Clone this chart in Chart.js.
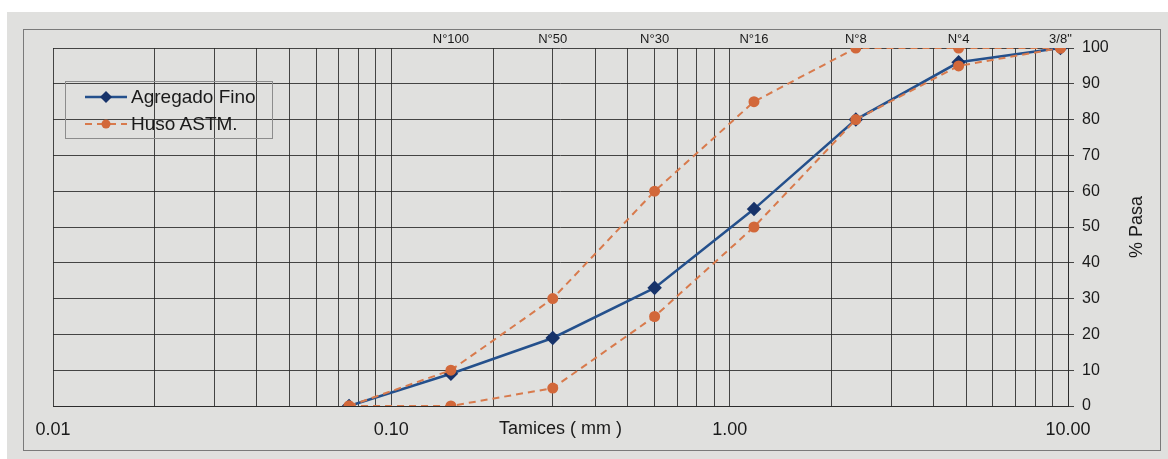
<!DOCTYPE html>
<html>
<head>
<meta charset="utf-8">
<script src="https://cdn.jsdelivr.net/npm/chart.js@4.4.1/dist/chart.umd.min.js"></script>
<style>
  body { margin: 0; background: #fff; }
  #wrap { position: relative; width: 1168px; height: 459px; }
  #legend {
    position: absolute; left: 65px; top: 81px; width: 206px; height: 56px;
    border: 1px solid #8c8c8c;
    font-family: "Liberation Sans", Arial, sans-serif; font-size: 19px; color: #1a1a1a;
  }
  #legend .row { position: absolute; left: 19px; height: 22px; display: flex; align-items: center; white-space: nowrap; }
  #legend svg { margin-right: 2px; }
</style>
</head>
<body>
<div id="wrap">
  <canvas id="myChart" width="1168" height="459"></canvas>
  <div id="legend"></div>
</div>
<script>
// tamices (mm) y su designacion
const sieveMm = [0.075, 0.15, 0.3, 0.6, 1.18, 2.36, 4.75, 9.5];
const sieveNames = ['N°200', 'N°100', 'N°50', 'N°30', 'N°16', 'N°8', 'N°4', '3/8"'];

// % que pasa
const agregadoFino = [0, 9, 19, 33, 55, 80, 96, 100];
const husoSuperior = [0, 10, 30, 60, 85, 100, 100, 100];
const husoInferior = [0, 0, 5, 25, 50, 80, 95, 100];

const xDecades = [0.01, 0.1, 1, 10];
const yTicks = [0, 10, 20, 30, 40, 50, 60, 70, 80, 90, 100];

const blue = '#24508c';
const blueMark = '#17336a';
const orange = '#d87a4c';
const orangeMark = '#d2683a';
const gridColor = 'rgba(40,40,40,0.85)';
const textColor = '#1a1a1a';
const FONT = '"Liberation Sans", Arial, sans-serif';

function pts(values) {
  return sieveMm.map((x, i) => ({ x: x, y: values[i] }));
}

// lineas de la grilla log: 1..9 por decada
const xGrid = [];
xDecades.forEach((d, i) => {
  if (i === xDecades.length - 1) { xGrid.push(d); return; }
  for (let k = 1; k <= 9; k++) xGrid.push(d * k);
});

const paperPlugin = {
  id: 'paper',
  beforeDraw(chart) {
    const ctx = chart.ctx;
    ctx.save();
    ctx.fillStyle = '#ffffff';
    ctx.fillRect(0, 0, chart.width, chart.height);
    ctx.fillStyle = '#e0e0de';
    ctx.fillRect(7, 12, chart.width - 7, chart.height - 12);
    ctx.strokeStyle = '#7a7a7a';
    ctx.lineWidth = 1;
    ctx.strokeRect(23.5, 29.5, 1137, 421);
    ctx.restore();
  },
  afterDraw(chart) {
    const ctx = chart.ctx;
    const ca = chart.chartArea;
    ctx.save();
    ctx.translate(1137, (ca.top + ca.bottom) / 2);
    ctx.rotate(-Math.PI / 2);
    ctx.font = '18px ' + FONT;
    ctx.fillStyle = textColor;
    ctx.textAlign = 'center';
    ctx.textBaseline = 'middle';
    ctx.fillText('% Pasa', 0, 0);
    ctx.restore();
  }
};

const datasets = [
  {
    label: 'Agregado Fino',
    data: pts(agregadoFino),
    borderColor: blue,
    borderWidth: 2.5,
    pointStyle: 'rectRot',
    pointRadius: 5.5,
    pointBackgroundColor: blueMark,
    pointBorderColor: blueMark,
    order: 3
  },
  {
    label: 'Huso ASTM.',
    data: pts(husoSuperior),
    borderColor: orange,
    borderWidth: 2,
    borderDash: [7, 5],
    pointStyle: 'circle',
    pointRadius: 4.5,
    pointBackgroundColor: orangeMark,
    pointBorderColor: orangeMark,
    order: 1
  },
  {
    label: 'Huso ASTM. inf',
    data: pts(husoInferior),
    borderColor: orange,
    borderWidth: 2,
    borderDash: [7, 5],
    pointStyle: 'circle',
    pointRadius: 4.5,
    pointBackgroundColor: orangeMark,
    pointBorderColor: orangeMark,
    order: 2
  }
];

const context = document.getElementById('myChart').getContext('2d');
const myChart = new Chart(context, {
  type: 'line',
  data: { datasets: datasets },
  plugins: [paperPlugin],
  options: {
    responsive: false,
    animation: false,
    devicePixelRatio: 1,
    layout: { padding: { left: 53, right: 0, top: 0, bottom: 0 } },
    plugins: {
      legend: { display: false },
      tooltip: { enabled: false }
    },
    scales: {
      x: {
        type: 'logarithmic',
        position: 'bottom',
        min: 0.01,
        max: 10,
        afterBuildTicks: (scale) => { scale.ticks = xGrid.map(v => ({ value: v })); },
        afterFit: (scale) => { scale.height = 53; },
        grid: { color: gridColor, lineWidth: 1, drawTicks: false },
        border: { color: gridColor },
        ticks: {
          autoSkip: false,
          maxRotation: 0,
          padding: 13,
          color: textColor,
          font: { family: FONT, size: 18 },
          callback: (v) => {
            const l = Math.log10(v);
            return Math.abs(l - Math.round(l)) < 1e-6 ? Number(v).toFixed(2) : '';
          }
        },
        title: {
          display: true,
          text: 'Tamices ( mm )',
          color: textColor,
          font: { family: FONT, size: 18 },
          padding: { top: 0, bottom: 19 }
        }
      },
      xTop: {
        type: 'logarithmic',
        position: 'top',
        min: 0.01,
        max: 10,
        afterBuildTicks: (scale) => { scale.ticks = sieveMm.slice(1).map(v => ({ value: v })); },
        afterFit: (scale) => { scale.height = 48; },
        grid: { display: false, drawTicks: false },
        border: { display: false },
        ticks: {
          autoSkip: false,
          maxRotation: 0,
          padding: 1,
          color: textColor,
          font: { family: FONT, size: 13 },
          callback: (v, i) => sieveNames[i + 1]
        }
      },
      y: {
        position: 'right',
        min: 0,
        max: 100,
        afterBuildTicks: (scale) => { scale.ticks = yTicks.map(v => ({ value: v })); },
        afterFit: (scale) => { scale.width = 100; },
        grid: { color: gridColor, lineWidth: 1, tickLength: 6 },
        border: { color: gridColor },
        ticks: {
          padding: 8,
          color: textColor,
          font: { family: FONT, size: 16 }
        }
      }
    }
  }
});

// leyenda dentro del area del grafico
const legendItems = [
  { text: 'Agregado Fino', color: blue, mark: blueMark, dash: null, shape: 'diamond' },
  { text: 'Huso ASTM.', color: orange, mark: orangeMark, dash: '7,5', shape: 'circle' }
];
const legendBox = document.getElementById('legend');
legendItems.forEach((it, i) => {
  const row = document.createElement('div');
  row.className = 'row';
  row.style.top = (4 + i * 27) + 'px';
  const marker = it.shape === 'diamond'
    ? '<polygon points="21,2 27,8 21,14 15,8" fill="' + it.mark + '"/>'
    : '<circle cx="21" cy="8" r="4.5" fill="' + it.mark + '"/>';
  row.innerHTML =
    '<svg width="44" height="16"><line x1="0" y1="8" x2="42" y2="8" stroke="' + it.color +
    '" stroke-width="' + (it.dash ? 2 : 2.5) + '"' + (it.dash ? ' stroke-dasharray="' + it.dash + '"' : '') +
    '/>' + marker + '</svg><span>' + it.text + '</span>';
  legendBox.appendChild(row);
});
</script>
</body>
</html>
